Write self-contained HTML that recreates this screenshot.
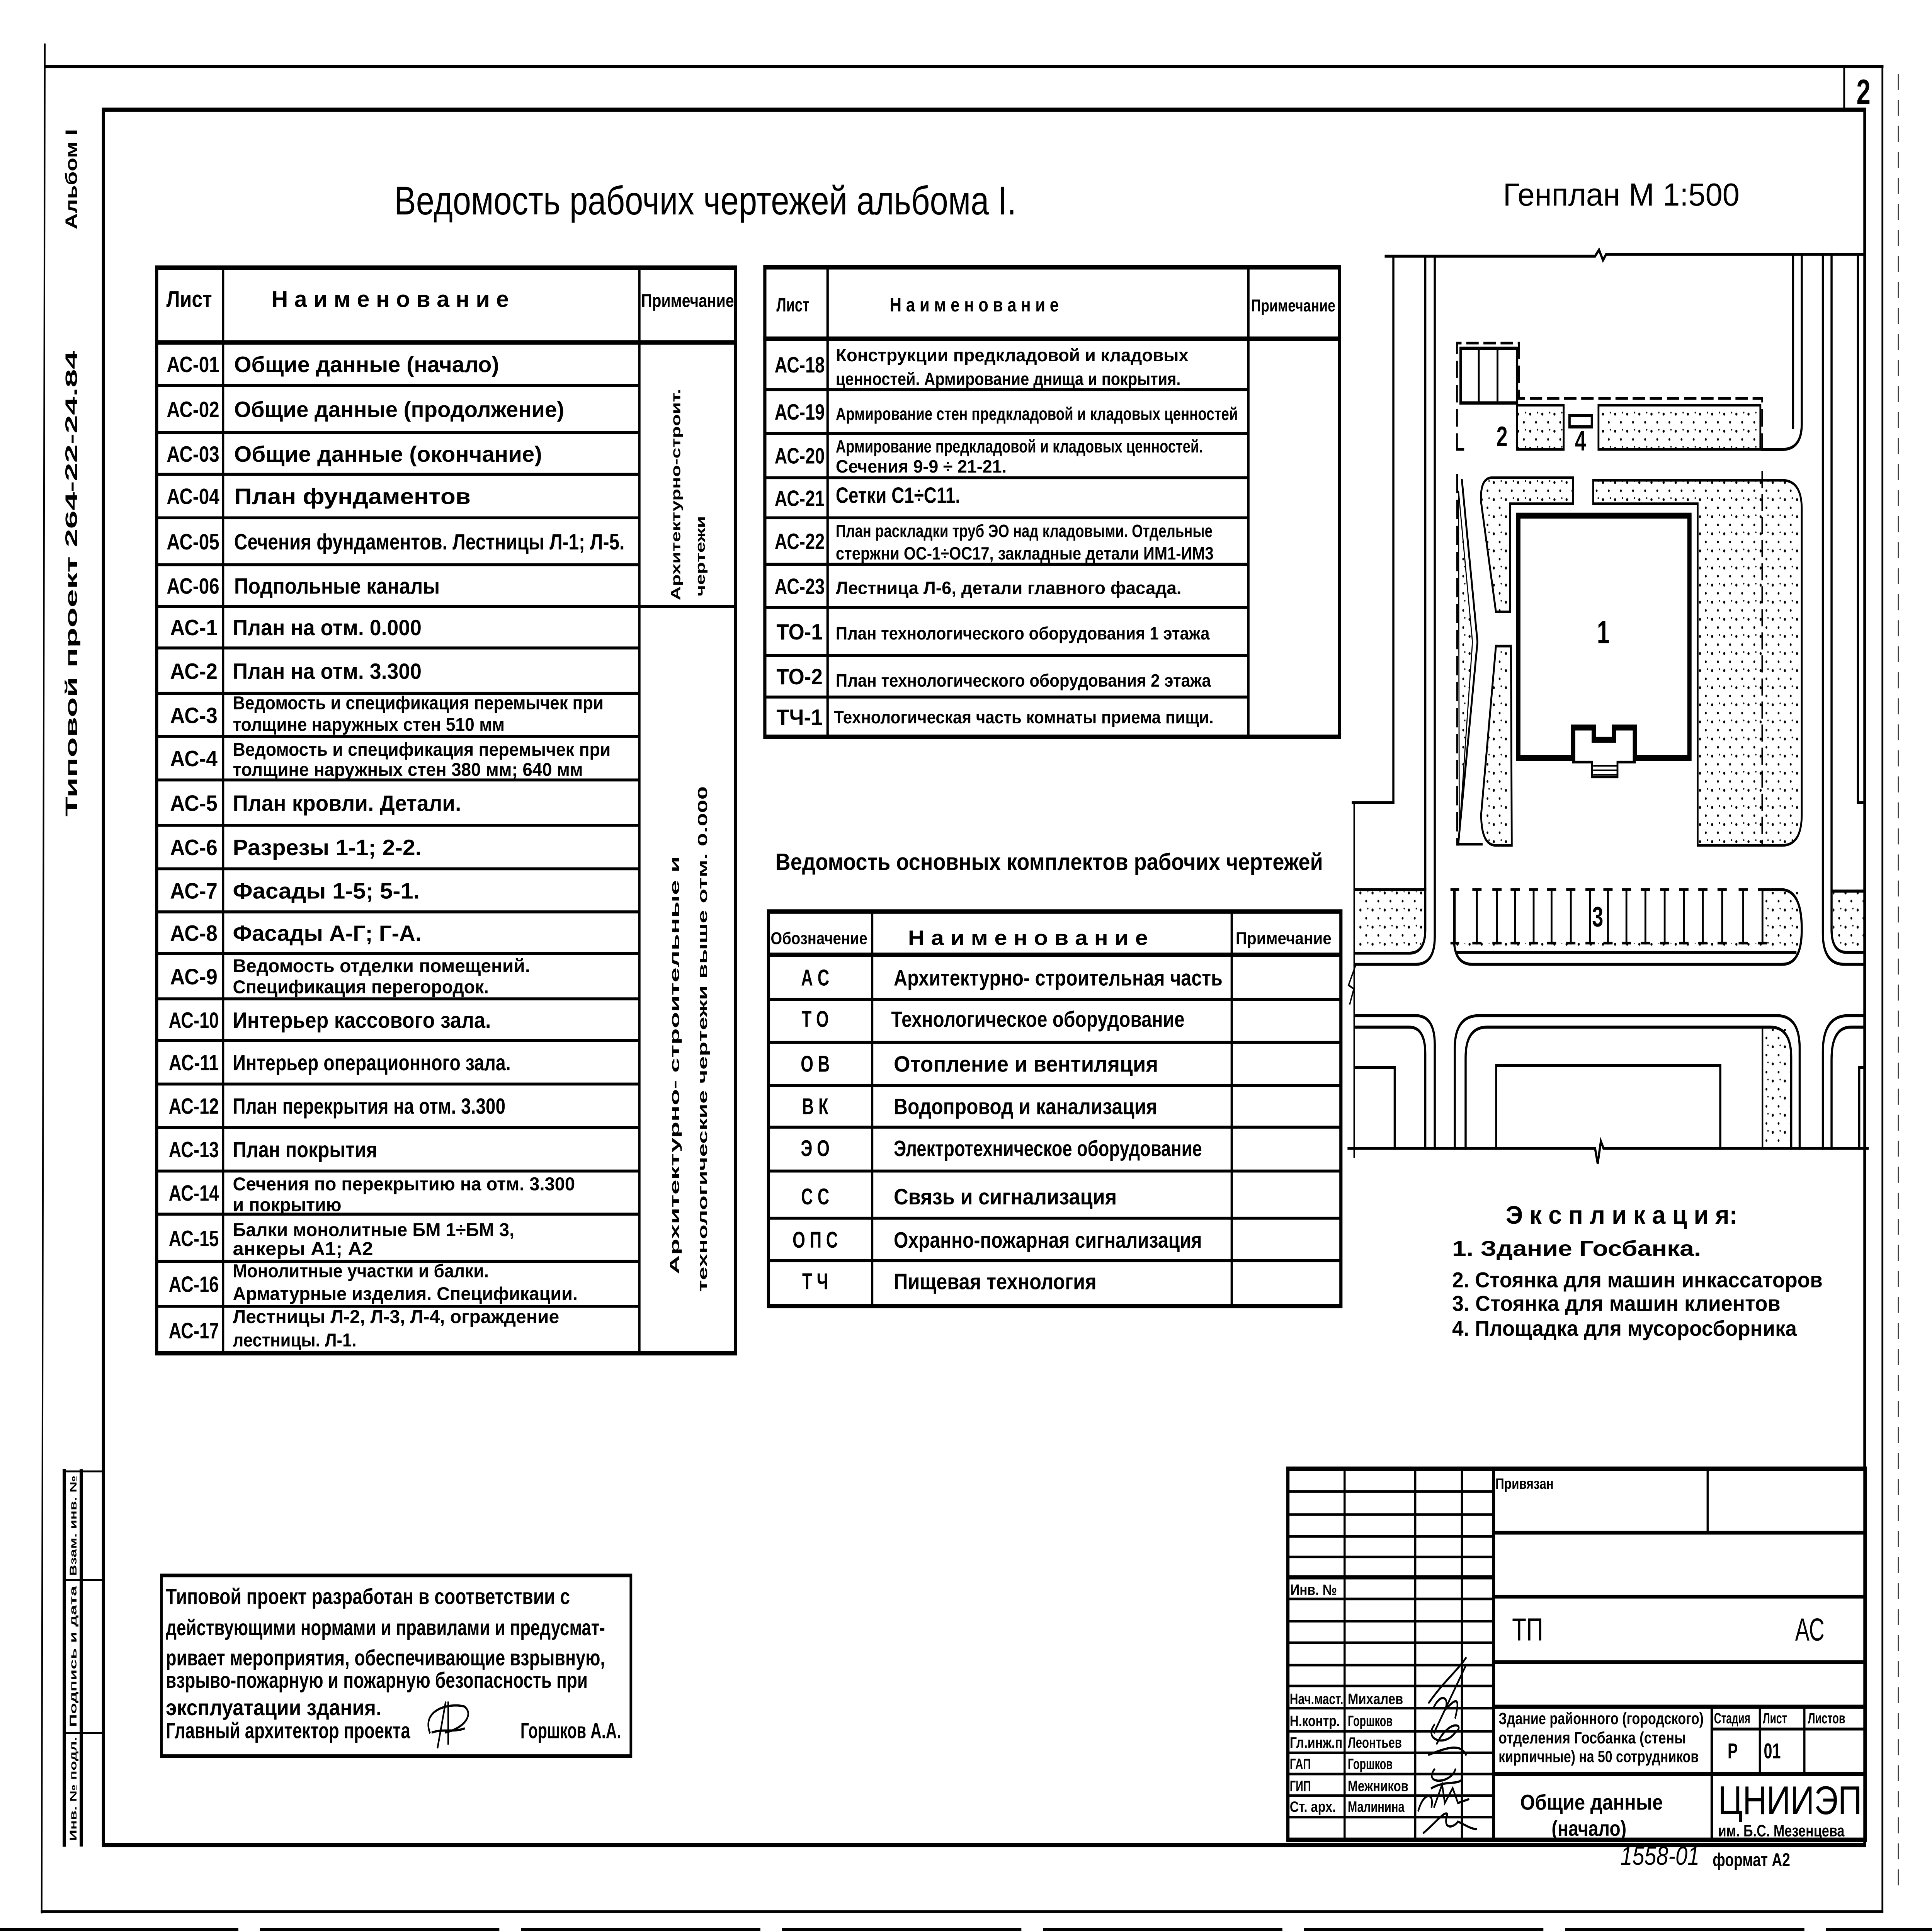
<!DOCTYPE html>
<html><head><meta charset="utf-8"><style>
html,body{margin:0;padding:0;background:#fff;width:100%;height:100%;overflow:hidden}
svg{display:block;position:fixed;left:0;top:0;width:100vw;height:100vh}
text{font-family:"Liberation Sans","DejaVu Sans",sans-serif;font-weight:bold;fill:#000}
.n{font-weight:normal}
</style></head><body>
<svg xmlns="http://www.w3.org/2000/svg" viewBox="0 0 7328 5197" preserveAspectRatio="none">
<defs>
<pattern id="dots" width="46" height="46" patternUnits="userSpaceOnUse">
<circle cx="8" cy="10" r="4" fill="#000"/><circle cx="30" cy="32" r="3.5" fill="#000"/><circle cx="36" cy="6" r="2.5" fill="#000"/>
</pattern>
</defs>
<rect width="7328" height="5197" fill="#fff"/>
<g fill="none" stroke="#000" stroke-linecap="square">
<line x1="172" y1="179" x2="7140" y2="179" stroke-width="8"/>
<line x1="170" y1="120" x2="158" y2="5144" stroke-width="6"/>
<line x1="158" y1="5142" x2="7140" y2="5142" stroke-width="7"/>
<line x1="7140" y1="179" x2="7140" y2="5142" stroke-width="7"/>
<line x1="0" y1="5190" x2="7328" y2="5190" stroke-width="8" stroke-dasharray="900 90"/>
<line x1="7200" y1="200" x2="7200" y2="5100" stroke-width="3" stroke-dasharray="40 30"/>
<rect x="392" y="295" width="6681" height="4668" stroke-width="11"/>
<line x1="6995" y1="179" x2="6995" y2="295" stroke-width="7"/>
<line x1="244" y1="3958" x2="244" y2="4961" stroke-width="13"/>
<line x1="308" y1="3958" x2="308" y2="4961" stroke-width="12"/>
<line x1="244" y1="3958" x2="392" y2="3958" stroke-width="5"/>
<line x1="244" y1="4250" x2="392" y2="4250" stroke-width="5"/>
<line x1="244" y1="4662" x2="392" y2="4662" stroke-width="5"/>

<rect x="594" y="720" width="2196" height="2920" stroke-width="12"/>
<line x1="594" y1="921" x2="2790" y2="921" stroke-width="12"/>
<line x1="846" y1="720" x2="846" y2="3640" stroke-width="9"/>
<line x1="2425" y1="720" x2="2425" y2="3640" stroke-width="9"/>
<g stroke-width="8">
<line x1="594" y1="1037" x2="2425" y2="1037"/><line x1="594" y1="1164" x2="2425" y2="1164"/>
<line x1="594" y1="1276" x2="2425" y2="1276"/><line x1="594" y1="1393" x2="2425" y2="1393"/>
<line x1="594" y1="1519" x2="2425" y2="1519"/><line x1="594" y1="1631" x2="2790" y2="1631"/>
<line x1="594" y1="1743" x2="2425" y2="1743"/><line x1="594" y1="1865" x2="2425" y2="1865"/>
<line x1="594" y1="1981" x2="2425" y2="1981"/><line x1="594" y1="2098" x2="2425" y2="2098"/>
<line x1="594" y1="2220" x2="2425" y2="2220"/><line x1="594" y1="2337" x2="2425" y2="2337"/>
<line x1="594" y1="2453" x2="2425" y2="2453"/><line x1="594" y1="2565" x2="2425" y2="2565"/>
<line x1="594" y1="2687" x2="2425" y2="2687"/><line x1="594" y1="2799" x2="2425" y2="2799"/>
<line x1="594" y1="2916" x2="2425" y2="2916"/><line x1="594" y1="3033" x2="2425" y2="3033"/>
<line x1="594" y1="3150" x2="2425" y2="3150"/><line x1="594" y1="3266" x2="2425" y2="3266"/>
<line x1="594" y1="3393" x2="2425" y2="3393"/><line x1="594" y1="3514" x2="2425" y2="3514"/>
</g>

<rect x="2901" y="719" width="2179" height="1263" stroke-width="12"/>
<line x1="2901" y1="911" x2="5080" y2="911" stroke-width="12"/>
<line x1="3139" y1="719" x2="3139" y2="1982" stroke-width="9"/>
<line x1="4735" y1="719" x2="4735" y2="1982" stroke-width="9"/>
<g stroke-width="8">
<line x1="2901" y1="1048" x2="4735" y2="1048"/><line x1="2901" y1="1166" x2="4735" y2="1166"/>
<line x1="2901" y1="1285" x2="4735" y2="1285"/><line x1="2901" y1="1393" x2="4735" y2="1393"/>
<line x1="2901" y1="1518" x2="4735" y2="1518"/><line x1="2901" y1="1634" x2="4735" y2="1634"/>
<line x1="2901" y1="1763" x2="4735" y2="1763"/><line x1="2901" y1="1875" x2="4735" y2="1875"/>
</g>

<rect x="2915" y="2452" width="2171" height="1061" stroke-width="12"/>
<line x1="2915" y1="2568" x2="5086" y2="2568" stroke-width="11"/>
<line x1="3308" y1="2452" x2="3308" y2="3513" stroke-width="9"/>
<line x1="4672" y1="2452" x2="4672" y2="3513" stroke-width="9"/>
<g stroke-width="8">
<line x1="2915" y1="2688" x2="5086" y2="2688"/><line x1="2915" y1="2804" x2="5086" y2="2804"/>
<line x1="2915" y1="2920" x2="5086" y2="2920"/><line x1="2915" y1="3032" x2="5086" y2="3032"/>
<line x1="2915" y1="3150" x2="5086" y2="3150"/><line x1="2915" y1="3277" x2="5086" y2="3277"/>
<line x1="2915" y1="3391" x2="5086" y2="3391"/>
</g>

<rect x="612" y="4238" width="1781" height="486" stroke-width="10"/>

<rect x="4885" y="3951" width="2190" height="998" stroke-width="12"/>
<line x1="5100" y1="3951" x2="5100" y2="4949" stroke-width="8"/>
<line x1="5368" y1="3951" x2="5368" y2="4949" stroke-width="8"/>
<line x1="5545" y1="3951" x2="5545" y2="4949" stroke-width="8"/>
<line x1="5665" y1="3951" x2="5665" y2="4949" stroke-width="11"/>
<g stroke-width="7">
<line x1="4885" y1="4012" x2="5665" y2="4012"/><line x1="4885" y1="4074" x2="5665" y2="4074"/>
<line x1="4885" y1="4133" x2="5665" y2="4133"/><line x1="4885" y1="4188" x2="5665" y2="4188"/>
<line x1="4885" y1="4301" x2="5665" y2="4301"/><line x1="4885" y1="4361" x2="5665" y2="4361"/>
<line x1="4885" y1="4419" x2="5665" y2="4419"/><line x1="4885" y1="4479" x2="5665" y2="4479"/>
<line x1="4885" y1="4535" x2="5665" y2="4535"/><line x1="4885" y1="4595" x2="5665" y2="4595"/>
<line x1="4885" y1="4657" x2="5665" y2="4657"/><line x1="4885" y1="4715" x2="5665" y2="4715"/>
<line x1="4885" y1="4772" x2="5665" y2="4772"/><line x1="4885" y1="4830" x2="5665" y2="4830"/>
<line x1="4885" y1="4888" x2="5665" y2="4888"/>
</g>
<line x1="4885" y1="4243" x2="5665" y2="4243" stroke-width="11"/>
<line x1="5665" y1="4123" x2="7075" y2="4123" stroke-width="10"/>
<line x1="6477" y1="3951" x2="6477" y2="4123" stroke-width="8"/>
<line x1="5665" y1="4295" x2="7075" y2="4295" stroke-width="10"/>
<line x1="5665" y1="4471" x2="7075" y2="4471" stroke-width="10"/>
<line x1="5665" y1="4591" x2="7075" y2="4591" stroke-width="11"/>
<line x1="5665" y1="4772" x2="7075" y2="4772" stroke-width="11"/>
<line x1="6493" y1="4591" x2="6493" y2="4949" stroke-width="10"/>
<line x1="6675" y1="4591" x2="6675" y2="4772" stroke-width="8"/>
<line x1="6844" y1="4591" x2="6844" y2="4772" stroke-width="8"/>
<line x1="6493" y1="4651" x2="7075" y2="4651" stroke-width="8"/>

<g stroke-width="6">
<path d="M5420 4580 C5480 4520 5520 4500 5560 4460 M5440 4590 C5470 4550 5500 4570 5480 4600 C5520 4570 5540 4560 5520 4620 M5560 4480 L5440 4660"/>
<path d="M5440 4640 C5400 4680 5480 4700 5520 4660 C5560 4640 5500 4620 5450 4690 M5420 4720 C5490 4700 5540 4690 5560 4720"/>
<path d="M5440 4760 C5400 4800 5500 4800 5520 4760 M5430 4810 C5480 4790 5520 4800 5540 4790"/>
<path d="M5380 4870 C5400 4820 5440 4820 5430 4860 M5440 4860 L5470 4800 L5480 4850 L5510 4810 L5530 4850 L5570 4840"/>
<path d="M5400 4930 C5450 4900 5480 4870 5490 4880 C5470 4920 5510 4920 5530 4900 C5560 4910 5580 4920 5600 4920"/>
</g>
<path d="M1630 4660 C1600 4600 1700 4580 1760 4590 C1800 4610 1760 4650 1690 4660 M1690 4580 L1660 4700 M1700 4580 L1700 4690 M1640 4660 C1680 4650 1720 4660 1760 4650" stroke-width="6"/>

<g stroke-width="8">
<path d="M5256 689 H6050 L6065 672 L6080 700 L6092 684 H7068"/>
<line x1="5285" y1="689" x2="5285" y2="2159"/>
<line x1="5131" y1="2159" x2="5285" y2="2159"/>
<line x1="5136" y1="2159" x2="5136" y2="3112" stroke-width="5"/>
<path d="M5406 689 V2500 Q5406 2564 5345 2564 H5140"/>
<path d="M5442 689 V2520 Q5442 2594 5370 2594 H5140"/>
<line x1="5140" y1="2393" x2="5406" y2="2393"/>
<path d="M6801 689 V1150"/>
<path d="M6834 689 V1140 Q6834 1209 6760 1209 H6684"/>
<path d="M6914 689 V2510 Q6914 2594 6995 2594 H7073"/>
<path d="M6947 689 V2500 Q6947 2562 7005 2562 H7073"/>
<line x1="6951" y1="2397" x2="7073" y2="2397"/>
<path d="M7047 689 V2159 H7073"/>
<path d="M5144 2732 H5370 Q5442 2732 5442 2810 V3089"/>
<path d="M5144 2763 H5345 Q5406 2763 5406 2835 V3089"/>
<path d="M5144 2871 H5290 V3089"/>
<path d="M5518 3089 V2820 Q5518 2732 5610 2732 H6740 Q6826 2732 6826 2820 V3089"/>
<path d="M5559 3089 V2845 Q5559 2763 5640 2763 H6715 Q6794 2763 6794 2845 V3089"/>
<path d="M5675 3089 V2866 H6525 V3089"/>
<path d="M7073 2732 H7010 Q6914 2732 6914 2830 V3089"/>
<path d="M7073 2763 H7020 Q6947 2763 6947 2850 V3089"/>
<path d="M7073 2871 H7052 V3089"/>
<path d="M5115 3089 H6050 L6060 3130 L6072 3070 L6082 3089 H7084"/>
<path d="M5140 2600 L5115 2650 L5135 2660 L5120 2700" stroke-width="5"/>
<path d="M5515 2393 V2525 Q5515 2594 5585 2594 H6760 Q6834 2594 6834 2500 Q6834 2393 6755 2393 H6685"/>
<line x1="5530" y1="2562" x2="6810" y2="2562"/>
</g>
<rect x="6690" y="2400" width="130" height="158" fill="url(#dots)" stroke="none"/>
<rect x="5520" y="2537" width="1170" height="24" fill="url(#dots)" stroke="none"/>
<path d="M5145 2398 H5400 V2500 Q5400 2558 5345 2558 H5145 Z" fill="url(#dots)" stroke="none"/>
<path d="M6953 2400 H7070 V2558 H7005 Q6953 2558 6953 2500 Z" fill="url(#dots)" stroke="none"/>
<rect x="6690" y="2768" width="100" height="318" fill="url(#dots)" stroke="none"/>
<line x1="6685" y1="2763" x2="6685" y2="3089" stroke-width="6"/>
<g stroke-width="7">
<path d="M5518 2393 V2537 M5602 2393 V2537 M5678 2393 V2537 M5747 2393 V2537 M5817 2393 V2537 M5885 2393 V2537 M5958 2393 V2537 M6031 2393 V2537 M6099 2393 V2537 M6169 2393 V2537 M6241 2393 V2537 M6314 2393 V2537 M6387 2393 V2537 M6459 2393 V2537 M6532 2393 V2537 M6612 2393 V2537 M6685 2393 V2537"/>
<path d="M5505 2393 h26 M5588 2393 h28 M5664 2393 h28 M5733 2393 h28 M5803 2393 h28 M5871 2393 h28 M5944 2393 h28 M6017 2393 h28 M6085 2393 h28 M6155 2393 h28 M6227 2393 h28 M6300 2393 h28 M6373 2393 h28 M6445 2393 h28 M6518 2393 h28 M6598 2393 h28 M6671 2393 h28"/>
<path d="M5505 2537 h26 M5588 2537 h28 M5664 2537 h28 M5733 2537 h28 M5803 2537 h28 M5871 2537 h28 M5944 2537 h28 M6017 2537 h28 M6085 2537 h28 M6155 2537 h28 M6227 2537 h28 M6300 2537 h28 M6373 2537 h28 M6445 2537 h28 M6518 2537 h28 M6598 2537 h28 M6671 2537 h28"/>
</g>
<path d="M5526 1209 V923 H5761 V1072 H6684 V1209" stroke-width="7" stroke-dasharray="40 25"/>
<line x1="5526" y1="1209" x2="5550" y2="1209" stroke-width="7"/>
<rect x="5540" y="937" width="214" height="147" stroke-width="9"/>
<line x1="5609" y1="937" x2="5609" y2="1084" stroke-width="7"/>
<line x1="5680" y1="937" x2="5680" y2="1084" stroke-width="7"/>
<rect x="5754" y="1090" width="177" height="119" stroke-width="7" fill="url(#dots)"/>
<rect x="6063" y="1090" width="614" height="119" stroke-width="7" fill="url(#dots)"/>
<rect x="5953" y="1118" width="85" height="30" stroke-width="9"/>
<line x1="5527" y1="1278" x2="5527" y2="2271" stroke-width="7" stroke-dasharray="45 25"/>
<path d="M5527 2271 H5620" stroke-width="7"/>
<path d="M5545 1292 L5604 1727 L5531 2271" stroke-width="7"/>
<path d="M5532 1320 L5585 1727 L5535 2240 Z" fill="url(#dots)" stroke-width="4"/>
<path d="M5660 1285 H5966 V1355 H5727 V1646 H5674 L5618 1352 Q5612 1285 5660 1285 Z" stroke-width="7" fill="url(#dots)"/>
<path d="M5674 1738 H5731 L5734 2274 H5674 Q5618 2274 5618 2190 Z" stroke-width="7" fill="url(#dots)"/>
<path d="M6043 1292 H6760 Q6834 1292 6834 1370 V2190 Q6834 2274 6760 2274 H6439 V1355 H6043 Z" stroke-width="7" fill="url(#dots)"/>
<line x1="6684" y1="1270" x2="6684" y2="2274" stroke-width="6" stroke-dasharray="40 22"/>
<path d="M5759 1387 H6408 V2039 H6201 V1957 H6122 V1990 H6045 V1957 H5967 V2039 H5759 Z" stroke-width="16" fill="#fff"/>
<path d="M5967 2039 V2050 H6038 V2090 H6135 V2050 H6201 V2039" stroke-width="7"/>
<path d="M6045 2060 H6130 M6045 2072 H6130 M6045 2084 H6130" stroke-width="4"/>
</g>

<text transform="translate(292 482) rotate(-90)" font-size="62" text-anchor="middle" textLength="270" lengthAdjust="spacingAndGlyphs">Альбом I</text>
<text transform="translate(292 1570) rotate(-90)" font-size="62" text-anchor="middle" textLength="1253" lengthAdjust="spacingAndGlyphs">Типовой   проект   264-22-24.84</text>
<text transform="translate(290 4104) rotate(-90)" font-size="36" text-anchor="middle" textLength="270" lengthAdjust="spacingAndGlyphs">Взам. инв. №</text>
<text transform="translate(290 4456) rotate(-90)" font-size="36" text-anchor="middle" textLength="380" lengthAdjust="spacingAndGlyphs">Подпись и дата</text>
<text transform="translate(290 4812) rotate(-90)" font-size="36" text-anchor="middle" textLength="280" lengthAdjust="spacingAndGlyphs">Инв. № подл.</text>

<text x="1495" y="577" font-size="108" class="n" textLength="2360" lengthAdjust="spacingAndGlyphs">Ведомость  рабочих  чертежей  альбома  I.</text>
<text x="5701" y="553" font-size="86" class="n" textLength="897" lengthAdjust="spacingAndGlyphs">Генплан    М 1:500</text>
<text x="2941" y="2340" font-size="64" textLength="2077" lengthAdjust="spacingAndGlyphs">Ведомость основных комплектов рабочих чертежей</text>
<text x="7068" y="280" font-size="96" text-anchor="middle">2</text>

<text x="631" y="826" font-size="62" textLength="173" lengthAdjust="spacingAndGlyphs">Лист</text>
<text x="1030" y="826" font-size="62" textLength="900" lengthAdjust="spacingAndGlyphs">Н а и м е н о в а н и е</text>
<text x="2432" y="826" font-size="50" textLength="352" lengthAdjust="spacingAndGlyphs">Примечание</text>

<g font-size="60">
<text x="632" y="1001" textLength="200" lengthAdjust="spacingAndGlyphs">АС-01</text>
<text x="632" y="1122" textLength="200" lengthAdjust="spacingAndGlyphs">АС-02</text>
<text x="632" y="1242" textLength="200" lengthAdjust="spacingAndGlyphs">АС-03</text>
<text x="632" y="1356" textLength="200" lengthAdjust="spacingAndGlyphs">АС-04</text>
<text x="632" y="1478" textLength="200" lengthAdjust="spacingAndGlyphs">АС-05</text>
<text x="632" y="1597" textLength="200" lengthAdjust="spacingAndGlyphs">АС-06</text>
<text x="645" y="1709" textLength="180" lengthAdjust="spacingAndGlyphs">АС-1</text>
<text x="645" y="1826" textLength="180" lengthAdjust="spacingAndGlyphs">АС-2</text>
<text x="645" y="1945" textLength="180" lengthAdjust="spacingAndGlyphs">АС-3</text>
<text x="645" y="2061" textLength="180" lengthAdjust="spacingAndGlyphs">АС-4</text>
<text x="645" y="2181" textLength="180" lengthAdjust="spacingAndGlyphs">АС-5</text>
<text x="645" y="2300" textLength="180" lengthAdjust="spacingAndGlyphs">АС-6</text>
<text x="645" y="2417" textLength="180" lengthAdjust="spacingAndGlyphs">АС-7</text>
<text x="645" y="2531" textLength="180" lengthAdjust="spacingAndGlyphs">АС-8</text>
<text x="645" y="2648" textLength="180" lengthAdjust="spacingAndGlyphs">АС-9</text>
<text x="640" y="2765" textLength="190" lengthAdjust="spacingAndGlyphs">АС-10</text>
<text x="640" y="2879" textLength="190" lengthAdjust="spacingAndGlyphs">АС-11</text>
<text x="640" y="2996" textLength="190" lengthAdjust="spacingAndGlyphs">АС-12</text>
<text x="640" y="3113" textLength="190" lengthAdjust="spacingAndGlyphs">АС-13</text>
<text x="640" y="3230" textLength="190" lengthAdjust="spacingAndGlyphs">АС-14</text>
<text x="640" y="3352" textLength="190" lengthAdjust="spacingAndGlyphs">АС-15</text>
<text x="640" y="3475" textLength="190" lengthAdjust="spacingAndGlyphs">АС-16</text>
<text x="640" y="3600" textLength="190" lengthAdjust="spacingAndGlyphs">АС-17</text>

<text x="888" y="1001" textLength="1005" lengthAdjust="spacingAndGlyphs">Общие   данные   (начало)</text>
<text x="888" y="1122" textLength="1252" lengthAdjust="spacingAndGlyphs">Общие   данные   (продолжение)</text>
<text x="888" y="1242" textLength="1168" lengthAdjust="spacingAndGlyphs">Общие   данные   (окончание)</text>
<text x="888" y="1356" textLength="897" lengthAdjust="spacingAndGlyphs">План   фундаментов</text>
<text x="888" y="1478" textLength="1481" lengthAdjust="spacingAndGlyphs">Сечения фундаментов. Лестницы Л-1; Л-5.</text>
<text x="888" y="1597" textLength="780" lengthAdjust="spacingAndGlyphs">Подпольные  каналы</text>
<text x="883" y="1709" textLength="716" lengthAdjust="spacingAndGlyphs">План  на  отм. 0.000</text>
<text x="883" y="1826" textLength="716" lengthAdjust="spacingAndGlyphs">План  на  отм. 3.300</text>
<text x="883" y="2181" textLength="866" lengthAdjust="spacingAndGlyphs">План  кровли.  Детали.</text>
<text x="883" y="2300" textLength="716" lengthAdjust="spacingAndGlyphs">Разрезы   1-1;  2-2.</text>
<text x="883" y="2417" textLength="709" lengthAdjust="spacingAndGlyphs">Фасады  1-5;  5-1.</text>
<text x="883" y="2531" textLength="716" lengthAdjust="spacingAndGlyphs">Фасады   А-Г;  Г-А.</text>
<text x="883" y="2765" textLength="979" lengthAdjust="spacingAndGlyphs">Интерьер   кассового   зала.</text>
<text x="883" y="2879" textLength="1054" lengthAdjust="spacingAndGlyphs">Интерьер  операционного  зала.</text>
<text x="883" y="2996" textLength="1034" lengthAdjust="spacingAndGlyphs">План  перекрытия  на  отм. 3.300</text>
<text x="883" y="3113" textLength="548" lengthAdjust="spacingAndGlyphs">План  покрытия</text>
</g>
<g font-size="50">
<text x="883" y="1908" textLength="1406" lengthAdjust="spacingAndGlyphs">Ведомость  и  спецификация  перемычек  при</text>
<text x="883" y="1966" textLength="1031" lengthAdjust="spacingAndGlyphs">толщине  наружных  стен  510 мм</text>
<text x="883" y="2033" textLength="1433" lengthAdjust="spacingAndGlyphs">Ведомость  и  спецификация  перемычек  при</text>
<text x="883" y="2087" textLength="1328" lengthAdjust="spacingAndGlyphs">толщине  наружных  стен  380 мм;  640 мм</text>
<text x="883" y="2615" textLength="1128" lengthAdjust="spacingAndGlyphs">Ведомость  отделки  помещений.</text>
<text x="883" y="2672" textLength="971" lengthAdjust="spacingAndGlyphs">Спецификация  перегородок.</text>
<text x="883" y="3202" textLength="1298" lengthAdjust="spacingAndGlyphs">Сечения  по  перекрытию  на  отм. 3.300</text>
<text x="883" y="3258" textLength="412" lengthAdjust="spacingAndGlyphs">и  покрытию</text>
<text x="883" y="3325" textLength="1068" lengthAdjust="spacingAndGlyphs">Балки  монолитные  БМ 1÷БМ 3,</text>
<text x="883" y="3376" textLength="532" lengthAdjust="spacingAndGlyphs">анкеры  А1; А2</text>
<text x="883" y="3436" textLength="971" lengthAdjust="spacingAndGlyphs">Монолитные  участки  и  балки.</text>
<text x="883" y="3497" textLength="1308" lengthAdjust="spacingAndGlyphs">Арматурные  изделия.  Спецификации.</text>
<text x="883" y="3559" textLength="1238" lengthAdjust="spacingAndGlyphs">Лестницы  Л-2, Л-3, Л-4,  ограждение</text>
<text x="883" y="3622" textLength="469" lengthAdjust="spacingAndGlyphs">лестницы.  Л-1.</text>
</g>
<g font-size="50">
<text transform="translate(2580 1615) rotate(-90)" textLength="569" lengthAdjust="spacingAndGlyphs">Архитектурно-строит.</text>
<text transform="translate(2673 1604) rotate(-90)" textLength="216" lengthAdjust="spacingAndGlyphs">чертежи</text>
<text transform="translate(2576 3428) rotate(-90)" textLength="1125" lengthAdjust="spacingAndGlyphs">Архитектурно-  строительные  и</text>
<text transform="translate(2682 3475) rotate(-90)" textLength="1360" lengthAdjust="spacingAndGlyphs">технологические  чертежи  выше  отм.  0.000</text>
</g>

<text x="2945" y="838" font-size="52" textLength="125" lengthAdjust="spacingAndGlyphs">Лист</text>
<text x="3375" y="838" font-size="52" textLength="641" lengthAdjust="spacingAndGlyphs">Н а и м е н о в а н и е</text>
<text x="4745" y="838" font-size="46" textLength="320" lengthAdjust="spacingAndGlyphs">Примечание</text>
<g font-size="60">
<text x="2938" y="1002" textLength="190" lengthAdjust="spacingAndGlyphs">АС-18</text>
<text x="2938" y="1129" textLength="190" lengthAdjust="spacingAndGlyphs">АС-19</text>
<text x="2938" y="1247" textLength="190" lengthAdjust="spacingAndGlyphs">АС-20</text>
<text x="2938" y="1361" textLength="190" lengthAdjust="spacingAndGlyphs">АС-21</text>
<text x="2938" y="1477" textLength="190" lengthAdjust="spacingAndGlyphs">АС-22</text>
<text x="2938" y="1598" textLength="190" lengthAdjust="spacingAndGlyphs">АС-23</text>
<text x="2945" y="1720" textLength="175" lengthAdjust="spacingAndGlyphs">ТО-1</text>
<text x="2945" y="1841" textLength="175" lengthAdjust="spacingAndGlyphs">ТО-2</text>
<text x="2945" y="1950" textLength="175" lengthAdjust="spacingAndGlyphs">ТЧ-1</text>
<text x="3170" y="1353" textLength="472" lengthAdjust="spacingAndGlyphs">Сетки   С1÷С11.</text>
</g>
<g font-size="48">
<text x="3170" y="972" textLength="1338" lengthAdjust="spacingAndGlyphs">Конструкции  предкладовой  и  кладовых</text>
<text x="3170" y="1036" textLength="1308" lengthAdjust="spacingAndGlyphs">ценностей. Армирование  днища  и  покрытия.</text>
<text x="3170" y="1130" textLength="1525" lengthAdjust="spacingAndGlyphs">Армирование  стен предкладовой  и  кладовых ценностей</text>
<text x="3170" y="1217" textLength="1393" lengthAdjust="spacingAndGlyphs">Армирование   предкладовой и кладовых ценностей.</text>
<text x="3170" y="1271" textLength="648" lengthAdjust="spacingAndGlyphs">Сечения  9-9 ÷ 21-21.</text>
<text x="3170" y="1445" textLength="1429" lengthAdjust="spacingAndGlyphs">План  раскладки труб ЭО над кладовыми. Отдельные</text>
<text x="3170" y="1505" textLength="1433" lengthAdjust="spacingAndGlyphs">стержни ОС-1÷ОС17, закладные  детали  ИМ1-ИМ3</text>
<text x="3170" y="1598" textLength="1311" lengthAdjust="spacingAndGlyphs">Лестница Л-6, детали  главного  фасада.</text>
<text x="3170" y="1720" textLength="1418" lengthAdjust="spacingAndGlyphs">План технологического оборудования 1 этажа</text>
<text x="3170" y="1847" textLength="1423" lengthAdjust="spacingAndGlyphs">План технологического  оборудования 2 этажа</text>
<text x="3163" y="1946" textLength="1440" lengthAdjust="spacingAndGlyphs">Технологическая часть комнаты приема пищи.</text>
</g>

<text x="2923" y="2540" font-size="46" textLength="367" lengthAdjust="spacingAndGlyphs">Обозначение</text>
<text x="3444" y="2542" font-size="56" textLength="910" lengthAdjust="spacingAndGlyphs">Н а и м е н о в а н и е</text>
<text x="4687" y="2540" font-size="46" textLength="363" lengthAdjust="spacingAndGlyphs">Примечание</text>
<g font-size="62" text-anchor="middle">
<text x="3092" y="2651">А С</text>
<text x="3092" y="2762">Т О</text>
<text x="3092" y="2883">О В</text>
<text x="3092" y="2997">В К</text>
<text x="3092" y="3110">Э О</text>
<text x="3092" y="3240">С С</text>
<text x="3092" y="3356">О П С</text>
<text x="3092" y="3468">Т Ч</text>
</g>
<g font-size="60">
<text x="3390" y="2651" textLength="1247" lengthAdjust="spacingAndGlyphs">Архитектурно- строительная часть</text>
<text x="3380" y="2762" textLength="1113" lengthAdjust="spacingAndGlyphs">Технологическое  оборудование</text>
<text x="3390" y="2883" textLength="1003" lengthAdjust="spacingAndGlyphs">Отопление   и   вентиляция</text>
<text x="3390" y="2997" textLength="1000" lengthAdjust="spacingAndGlyphs">Водопровод   и   канализация</text>
<text x="3390" y="3110" textLength="1169" lengthAdjust="spacingAndGlyphs">Электротехническое  оборудование</text>
<text x="3390" y="3240" textLength="846" lengthAdjust="spacingAndGlyphs">Связь   и   сигнализация</text>
<text x="3390" y="3356" textLength="1169" lengthAdjust="spacingAndGlyphs">Охранно-пожарная   сигнализация</text>
<text x="3390" y="3468" textLength="769" lengthAdjust="spacingAndGlyphs">Пищевая   технология</text>
</g>

<text x="5697" y="1200" font-size="76" text-anchor="middle">2</text>
<text x="5995" y="1212" font-size="76" text-anchor="middle">4</text>
<text x="6081" y="1730" font-size="86" text-anchor="middle">1</text>
<text x="6060" y="2492" font-size="76" text-anchor="middle">3</text>

<text x="5711" y="3292" font-size="68" textLength="879" lengthAdjust="spacingAndGlyphs">Э к с п л и к а ц и я:</text>
<g font-size="58">
<text x="5508" y="3378" textLength="944" lengthAdjust="spacingAndGlyphs">1. Здание    Госбанка.</text>
<text x="5508" y="3463" textLength="1405" lengthAdjust="spacingAndGlyphs">2. Стоянка   для   машин  инкассаторов</text>
<text x="5508" y="3526" textLength="1245" lengthAdjust="spacingAndGlyphs">3. Стоянка   для   машин   клиентов</text>
<text x="5508" y="3593" textLength="1307" lengthAdjust="spacingAndGlyphs">4. Площадка  для   мусоросборника</text>
</g>

<g font-size="60">
<text x="629" y="4315" textLength="1533" lengthAdjust="spacingAndGlyphs">Типовой проект разработан в соответствии с</text>
<text x="629" y="4399" textLength="1666" lengthAdjust="spacingAndGlyphs">действующими нормами и правилами и предусмат-</text>
<text x="629" y="4480" textLength="1666" lengthAdjust="spacingAndGlyphs">ривает мероприятия, обеспечивающие взрывную,</text>
<text x="629" y="4540" textLength="1600" lengthAdjust="spacingAndGlyphs">взрыво-пожарную и пожарную безопасность при</text>
<text x="629" y="4614" textLength="818" lengthAdjust="spacingAndGlyphs">эксплуатации   здания.</text>
<text x="629" y="4676" textLength="927" lengthAdjust="spacingAndGlyphs">Главный архитектор проекта</text>
<text x="1974" y="4676" textLength="382" lengthAdjust="spacingAndGlyphs">Горшков А.А.</text>
</g>

<text x="5672" y="4005" font-size="40" textLength="221" lengthAdjust="spacingAndGlyphs">Привязан</text>
<text x="4894" y="4290" font-size="40" textLength="177" lengthAdjust="spacingAndGlyphs">Инв. №</text>
<text x="5735" y="4413" font-size="86" class="n" textLength="118" lengthAdjust="spacingAndGlyphs">ТП</text>
<text x="6809" y="4413" font-size="86" class="n" textLength="111" lengthAdjust="spacingAndGlyphs">АС</text>
<g font-size="40">
<text x="4892" y="4584" textLength="203" lengthAdjust="spacingAndGlyphs">Нач.маст.</text>
<text x="4892" y="4643" textLength="190" lengthAdjust="spacingAndGlyphs">Н.контр.</text>
<text x="4892" y="4701" textLength="200" lengthAdjust="spacingAndGlyphs">Гл.инж.п</text>
<text x="4892" y="4759" textLength="80" lengthAdjust="spacingAndGlyphs">ГАП</text>
<text x="4892" y="4818" textLength="80" lengthAdjust="spacingAndGlyphs">ГИП</text>
<text x="4892" y="4874" textLength="175" lengthAdjust="spacingAndGlyphs">Ст. арх.</text>
<text x="5112" y="4584" textLength="210" lengthAdjust="spacingAndGlyphs">Михалев</text>
<text x="5112" y="4643" textLength="170" lengthAdjust="spacingAndGlyphs">Горшков</text>
<text x="5112" y="4701" textLength="205" lengthAdjust="spacingAndGlyphs">Леонтьев</text>
<text x="5112" y="4759" textLength="170" lengthAdjust="spacingAndGlyphs">Горшков</text>
<text x="5112" y="4818" textLength="230" lengthAdjust="spacingAndGlyphs">Межников</text>
<text x="5112" y="4874" textLength="215" lengthAdjust="spacingAndGlyphs">Малинина</text>
</g>
<g font-size="44">
<text x="5684" y="4638" textLength="778" lengthAdjust="spacingAndGlyphs">Здание  районного (городского)</text>
<text x="5684" y="4690" textLength="711" lengthAdjust="spacingAndGlyphs">отделения Госбанка  (стены</text>
<text x="5684" y="4740" textLength="759" lengthAdjust="spacingAndGlyphs">кирпичные) на 50 сотрудников</text>
<text x="6501" y="4636" font-size="40" textLength="138" lengthAdjust="spacingAndGlyphs">Стадия</text>
<text x="6686" y="4636" font-size="40" textLength="92" lengthAdjust="spacingAndGlyphs">Лист</text>
<text x="6857" y="4636" font-size="40" textLength="142" lengthAdjust="spacingAndGlyphs">Листов</text>
</g>
<text x="6572" y="4730" font-size="58" text-anchor="middle">Р</text>
<text x="6722" y="4730" font-size="58" text-anchor="middle">01</text>
<text x="5766" y="4868" font-size="58" textLength="541" lengthAdjust="spacingAndGlyphs">Общие   данные</text>
<text x="5885" y="4938" font-size="58" textLength="284" lengthAdjust="spacingAndGlyphs">(начало)</text>
<text x="6517" y="4880" font-size="108" class="n" textLength="545" lengthAdjust="spacingAndGlyphs">ЦНИИЭП</text>
<text x="6517" y="4940" font-size="44" textLength="479" lengthAdjust="spacingAndGlyphs">им. Б.С. Мезенцева</text>
<text x="6146" y="5016" font-size="70" class="n" font-style="italic" textLength="300" lengthAdjust="spacingAndGlyphs">1558-01</text>
<text x="6496" y="5020" font-size="50" textLength="294" lengthAdjust="spacingAndGlyphs">формат А2</text>
</svg>
</body></html>
